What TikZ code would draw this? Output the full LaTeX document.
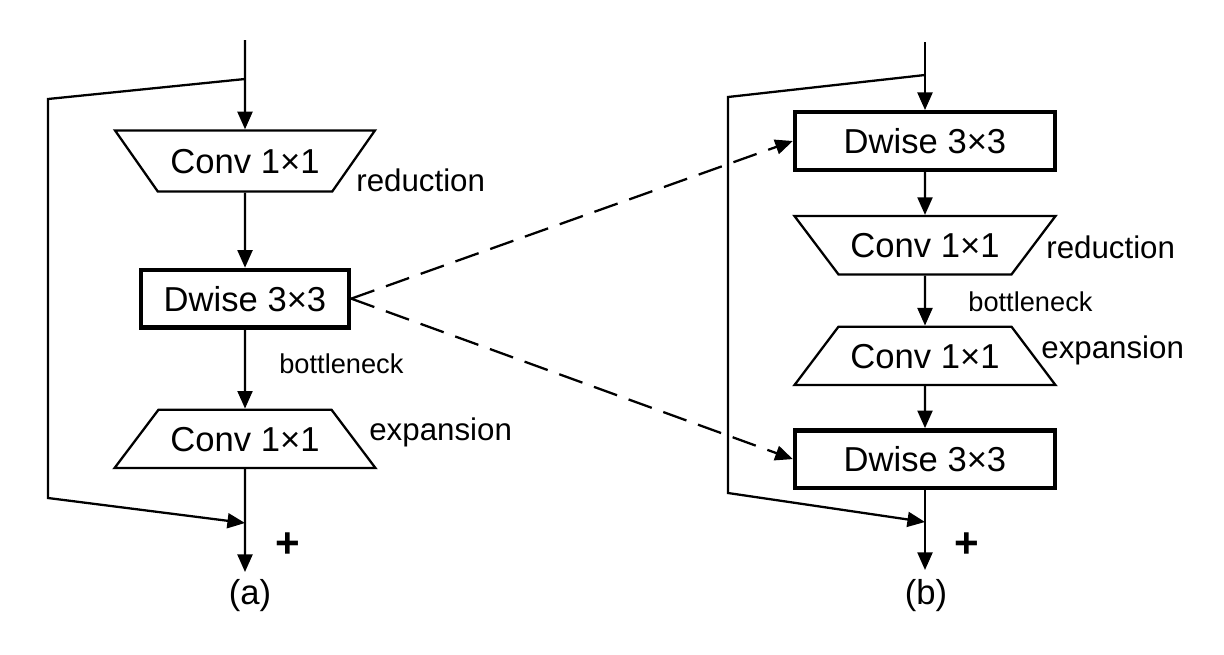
\documentclass[tikz,border=0pt]{standalone}
\usepackage{fontspec}
\setmainfont{Liberation Sans}
\usetikzlibrary{shapes.geometric,arrows.meta,positioning}

\begin{document}
\begin{tikzpicture}[
  x=0.02cm, y=0.02cm,
  conv/.style={draw, line width=1.3pt, shape=trapezium, trapezium left angle=53,
               trapezium right angle=53, trapezium stretches body,
               inner xsep=0pt, inner ysep=9.6pt, text height=14pt, text depth=0pt,
               minimum width=5.22cm, font=\fontsize{19.7}{22}\selectfont},
  redu/.style={conv, shape border rotate=180},
  dwise/.style={draw, line width=2.5pt, inner sep=0pt, minimum height=1.15cm,
                font=\fontsize{19.7}{22}\selectfont},
  lbl/.style={anchor=west, inner sep=0pt, font=\fontsize{17.8}{20}\selectfont},
  small/.style={lbl, font=\fontsize{15.5}{18}\selectfont},
  arr/.style={-{Triangle[length=10pt,width=8.5pt]}, line width=1.3pt},
  dasharr/.style={arr, dash pattern=on 14pt off 7pt}
]
  \useasboundingbox (0,0) rectangle (1224,654);

  % Block (a)
  \node[redu, minimum width=5.2cm, inner ysep=10.4pt, trapezium left angle=55,
        trapezium right angle=55] (reda) at (245,493) {Conv 1×1};
  \node[dwise, minimum width=4.16cm, below=1.5cm of reda] (dwa) {Dwise 3×3};
  \node[conv, below=1.58cm of dwa] (expa) {Conv 1×1};

  \node[lbl] (redlbla) at (356,474) {reduction};
  \node[small] (botlbla) at (279,290) {bottleneck};
  \node[lbl] (explbla) at (369,222) {expansion};

  \coordinate (ina) at (245,614);
  \coordinate (tapa) at (245,575);
  \coordinate (skipa1) at (48,555);
  \coordinate (skipa2) at (48,156);
  \coordinate (joina) at (245,131);
  \coordinate (outa) at (245,82);

  \draw[arr] (ina) -- (reda);
  \draw[arr] (reda) -- (dwa);
  \draw[arr] (dwa) -- (expa);
  \draw[arr] (expa) -- (outa);
  \draw[arr] (tapa) -- (skipa1) -- (skipa2) -- (joina);

  \node[font=\fontsize{24}{26}\selectfont\bfseries] (plusa) at (288,109) {+};
  \node[font=\fontsize{19.7}{22}\selectfont] (capa) at (250,58) {(a)};

  % Block (b)
  \node[dwise, minimum width=5.2cm] (dwb1) at (925,513) {Dwise 3×3};
  \node[redu, below=0.86cm of dwb1] (redb) {Conv 1×1};
  \node[conv, below=1.0cm of redb] (expb) {Conv 1×1};
  \node[dwise, minimum width=5.2cm, below=0.84cm of expb] (dwb2) {Dwise 3×3};

  \node[lbl] (redlblb) at (1046,407) {reduction};
  \node[small] (botlblb) at (968,352) {bottleneck};
  \node[lbl] (explblb) at (1041,304) {expansion};

  \coordinate (inb) at (925,612);
  \coordinate (tapb) at (925,579);
  \coordinate (skipb1) at (728,557);
  \coordinate (skipb2) at (728,161);
  \coordinate (joinb) at (925,132);
  \coordinate (outb) at (925,84);

  \draw[arr] (inb) -- (dwb1);
  \draw[arr] (dwb1) -- (redb);
  \draw[arr] (redb) -- (expb);
  \draw[arr] (expb) -- (dwb2);
  \draw[arr] (dwb2) -- (outb);
  \draw[arr] (tapb) -- (skipb1) -- (skipb2) -- (joinb);

  \node[font=\fontsize{24}{26}\selectfont\bfseries] (plusb) at (967,109) {+};
  \node[font=\fontsize{19.7}{22}\selectfont] (capb) at (926,58) {(b)};

  % Dashed links
  \draw[dasharr] (dwa.east) -- (dwb1.west);
  \draw[dasharr] (dwa.east) -- (dwb2.west);
\end{tikzpicture}
\end{document}
